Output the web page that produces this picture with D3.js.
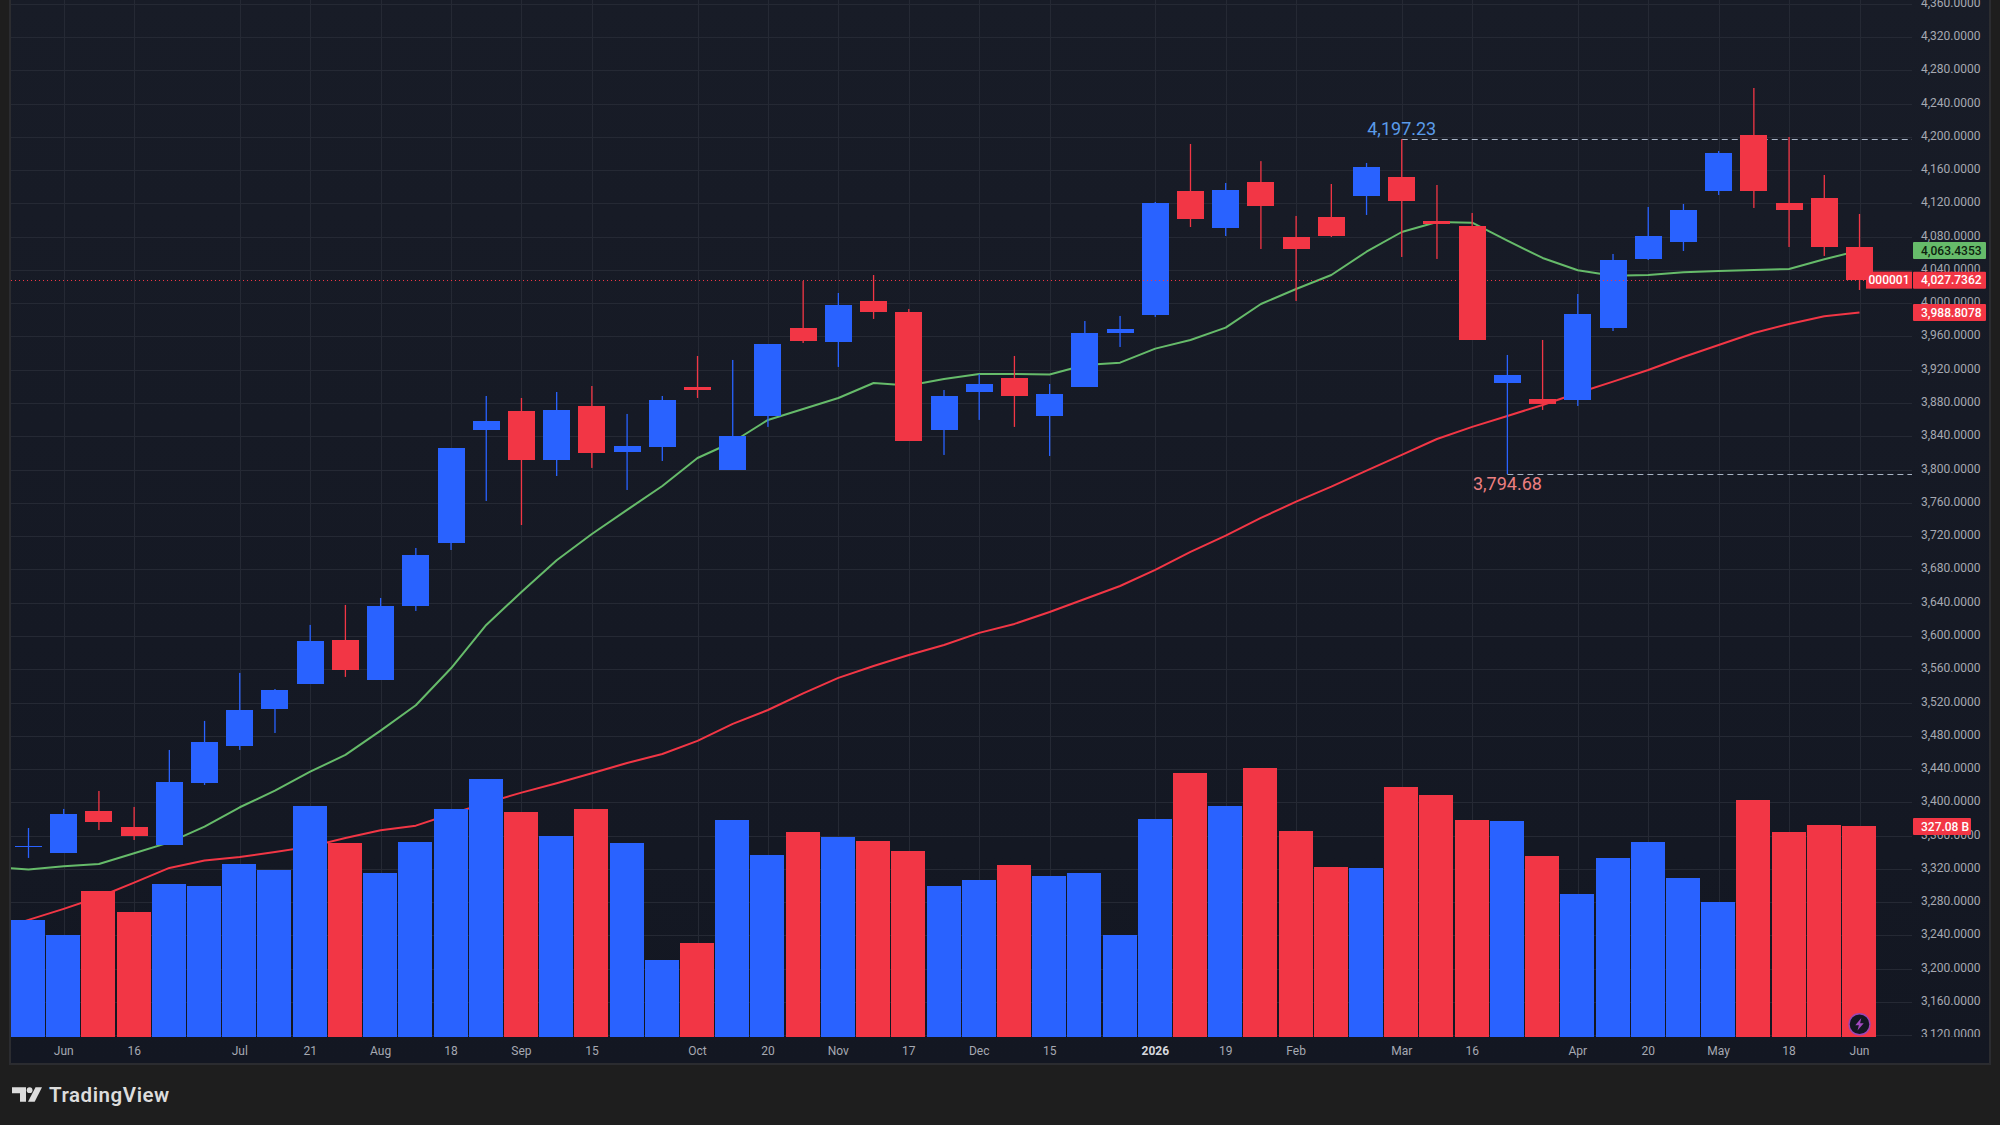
<!DOCTYPE html>
<html>
<head>
<meta charset="utf-8">
<title>Weekly candlestick chart with volume and moving averages</title>
<script src="https://cdn.jsdelivr.net/npm/d3@7/dist/d3.min.js"></script>
<style>
  html, body { margin: 0; padding: 0; background: #1e1e1e; }
  svg { display: block; }
  text { font-family: Roboto, "Noto Sans", sans-serif; }
</style>
</head>
<body>
<svg id="chart" width="2000" height="1125"></svg>
<script>
// Weekly OHLC
const opens = [3346.4,3339.2,3389.7,3370.4,3348.8,3423.3,3467.8,3512.3,3542.3,3595.2,3547.1,3636.1,3711.8,3847.6,3870.5,3811.6,3876.5,3821.2,3827.2,3899.3,3799.6,3864.5,3970.2,3953.4,4002.7,3989.5,3847.6,3893.3,3910.2,3864.5,3899.3,3964.2,3985.9,4134.9,4090.4,4145.7,4079.6,4103.6,4128.9,4151.7,4098.8,4092.8,3904.1,3884.9,3883.7,3970.2,4053.2,4073.6,4134.9,4202.2,4120.5,4126.5,4067.6];
const highs = [3369.2,3392.1,3413.7,3394.5,3463.0,3497.9,3555.6,3536.3,3613.3,3637.3,3645.7,3705.8,3826.0,3888.5,3886.1,3893.3,3900.5,3866.9,3888.5,3936.6,3931.8,3951.0,4026.7,4012.3,4033.9,3993.1,3895.7,3915.0,3936.6,3902.9,3978.6,3984.7,4121.7,4191.4,4144.5,4170.8,4104.9,4143.3,4168.6,4197.23,4142.1,4108.5,3937.8,3955.8,4011.1,4059.2,4115.7,4119.3,4183.0,4258.7,4199.8,4154.1,4107.3];
const lows = [3333.2,3339.2,3366.8,3354.8,3348.8,3420.9,3463.0,3483.4,3542.3,3550.8,3547.1,3630.1,3703.4,3762.3,3733.4,3792.3,3802.0,3775.5,3810.4,3886.1,3799.6,3851.3,3952.2,3923.4,3981.1,3834.4,3817.6,3859.7,3851.3,3816.4,3899.3,3947.4,3983.5,4091.6,4080.8,4065.2,4002.7,4079.6,4106.1,4055.6,4053.2,3955.8,3794.68,3871.7,3876.5,3966.6,4052.0,4062.8,4130.1,4114.5,4067.6,4056.8,4015.9];
const closes = [3347.6,3386.1,3376.5,3359.6,3424.5,3472.6,3511.1,3535.1,3594.1,3559.2,3636.1,3697.4,3826.0,3858.5,3811.6,3871.7,3820.0,3828.4,3883.7,3895.7,3840.4,3951.0,3954.6,3997.9,3989.5,3834.4,3888.5,3902.9,3888.5,3890.9,3964.2,3969.0,4120.5,4101.2,4136.1,4116.9,4065.2,4080.8,4163.8,4122.9,4095.2,3955.8,3913.8,3878.9,3987.1,4052.0,4080.8,4112.1,4180.6,4134.9,4112.1,4067.6,4027.7362];

// Weekly volume, in billions
const volumes = [181.4,158.1,226.3,193.8,237.2,234.1,268.2,258.9,358.1,300.7,254.2,302.3,353.4,399.9,348.8,311.6,353.4,300.7,119.4,145.7,336.4,282.1,317.8,310.0,303.8,288.3,234.1,243.4,266.6,249.6,254.2,158.1,337.9,409.2,358.1,417.0,319.3,263.5,262.0,387.5,375.1,336.4,334.8,280.6,221.7,277.5,302.3,246.5,209.3,367.4,317.8,328.6,327.08];

// Moving averages; the first entry belongs to the week before the visible range
const fastAverage = [3322.0,3319.4,3323.2,3326.0,3338.9,3351.9,3370.9,3394.1,3414.1,3436.9,3457.0,3486.2,3516.7,3561.2,3613.3,3652.9,3691.0,3722.6,3751.5,3780.3,3813.9,3833.2,3859.7,3872.9,3886.1,3904.1,3901.1,3909.0,3915.0,3915.0,3914.4,3925.8,3928.5,3945.4,3955.8,3970.6,3999.1,4017.1,4033.9,4061.9,4085.6,4097.6,4096.8,4075.2,4054.4,4039.6,4033.1,4033.9,4037.2,4038.8,4040.0,4041.2,4052.8,4063.4353];
const slowAverage = [3244.9,3258.7,3272.0,3286.3,3303.5,3321.2,3330.2,3334.4,3340.4,3346.8,3357.2,3366.5,3372.0,3386.1,3399.3,3411.7,3423.0,3435.0,3447.4,3458.2,3473.9,3494.3,3511.0,3531.0,3549.6,3564.0,3577.2,3589.2,3603.7,3614.5,3628.9,3644.5,3660.1,3679.4,3701.0,3720.6,3741.9,3761.5,3779.5,3798.7,3817.6,3836.8,3851.3,3864.5,3877.7,3892.1,3905.7,3919.7,3935.4,3949.8,3964.2,3975.0,3984.3,3988.8078];

// Axis ticks
const priceTicks = [3120,3160,3200,3240,3280,3320,3360,3400,3440,3480,3520,3560,3600,3640,3680,3720,3760,3800,3840,3880,3920,3960,4000,4040,4080,4120,4160,4200,4240,4280,4320,4360];
const timeTickIndex = [1,3,6,8,10,12,14,16,19,21,23,25,27,29,32,34,36,39,41,44,46,48,50,52];
const timeTickLabels = ["Jun","16","Jul","21","Aug","18","Sep","15","Oct","20","Nov","17","Dec","15","2026","19","Feb","Mar","16","Apr","20","May","18","Jun"];

// Annotated extremes: week index and price
const highMark = [39, 4197.23];
const lowMark = [42, 3794.68];

const upColor = "#2962ff", downColor = "#f23645", fastColor = "#66bb6a";
const gridColor = "#252934", axisText = "#a6a9b2", frameColor = "#2b2c30";

const pane = { left: 11, right: 1912, top: 0, bottom: 1037, axisRight: 1989, footBottom: 1064 };

const x = d3.scaleLinear().domain([0, 52]).range([28.5, 1859.5]);
const y = d3.scaleLinear().domain([3120, 4320]).range([1035.3, 37]);
const v = d3.scaleLinear().domain([0, 327.08]).range([pane.bottom, 826]);

const svg = d3.select("#chart");
const defs = svg.append("defs");

const bg = defs.append("linearGradient").attr("id", "paneFill")
  .attr("x1", 0).attr("y1", 0).attr("x2", 0).attr("y2", 1);
bg.append("stop").attr("offset", "0").attr("stop-color", "#181c27");
bg.append("stop").attr("offset", "1").attr("stop-color", "#131722");

defs.append("clipPath").attr("id", "plotClip").append("rect")
  .attr("x", pane.left).attr("y", pane.top)
  .attr("width", pane.right - pane.left).attr("height", pane.bottom - pane.top);
defs.append("clipPath").attr("id", "priceClip").append("rect")
  .attr("x", pane.right).attr("y", pane.top)
  .attr("width", pane.axisRight - pane.right).attr("height", pane.bottom - pane.top);

// Frame and panel background
svg.append("rect")
  .attr("x", pane.left - 1).attr("y", -2)
  .attr("width", pane.axisRight - pane.left + 2).attr("height", pane.footBottom + 2)
  .attr("fill", "url(#paneFill)").attr("stroke", frameColor).attr("stroke-width", 2);

const plot = svg.append("g").attr("clip-path", "url(#plotClip)");

// Grid, built from the same axes as the labels
plot.append("g")
  .attr("transform", `translate(${pane.right},0)`)
  .call(d3.axisRight(y).tickValues(priceTicks).tickSize(pane.left - pane.right).tickFormat(""))
  .call(g => g.select(".domain").remove())
  .call(g => g.selectAll("line").attr("stroke", gridColor).attr("shape-rendering", "crispEdges"));
plot.append("g")
  .attr("transform", `translate(0,${pane.bottom})`)
  .call(d3.axisTop(x).tickValues(timeTickIndex).tickSize(pane.bottom - pane.top).tickFormat(""))
  .call(g => g.select(".domain").remove())
  .call(g => g.selectAll("line").attr("stroke", gridColor).attr("shape-rendering", "crispEdges"));

// Dashed guides running from the high and low weeks to the price axis
[highMark, lowMark].forEach(([week, price]) => {
  plot.append("line")
    .attr("x1", x(week)).attr("x2", pane.right)
    .attr("y1", Math.round(y(price)) + 0.5).attr("y2", Math.round(y(price)) + 0.5)
    .attr("stroke", "#a7b3c4").attr("stroke-width", 1).attr("stroke-dasharray", "6 4");
});

// Moving averages
const averageLine = d3.line().x((d, i) => x(i - 1)).y(d => y(d));
plot.append("path").datum(slowAverage).attr("d", averageLine)
  .attr("fill", "none").attr("stroke", downColor).attr("stroke-width", 2).attr("stroke-linejoin", "round");
plot.append("path").datum(fastAverage).attr("d", averageLine)
  .attr("fill", "none").attr("stroke", fastColor).attr("stroke-width", 2).attr("stroke-linejoin", "round");

// Volume columns
const isUp = i => closes[i] >= opens[i];
plot.append("g").selectAll("rect").data(volumes).join("rect")
  .attr("x", (d, i) => x(i) - 17.5)
  .attr("width", 34)
  .attr("y", d => v(d))
  .attr("height", d => pane.bottom - v(d))
  .attr("fill", (d, i) => isUp(i) ? upColor : downColor)
  .attr("shape-rendering", "crispEdges");

// Candles
const candle = plot.append("g").selectAll("g").data(d3.range(opens.length)).join("g")
  .attr("fill", i => isUp(i) ? upColor : downColor);
candle.append("rect")
  .attr("x", i => x(i) - 0.65).attr("width", 1.3)
  .attr("y", i => y(highs[i]))
  .attr("height", i => y(lows[i]) - y(highs[i]));
candle.append("rect")
  .attr("x", i => x(i) - 13.5).attr("width", 27)
  .attr("y", i => y(Math.max(opens[i], closes[i])))
  .attr("height", i => Math.max(1, Math.abs(y(opens[i]) - y(closes[i]))))
  .attr("shape-rendering", "crispEdges");

// Last-price dotted line
const lastClose = closes[closes.length - 1];
plot.append("line")
  .attr("x1", pane.left).attr("x2", pane.right)
  .attr("y1", Math.round(y(lastClose)) + 0.5).attr("y2", Math.round(y(lastClose)) + 0.5)
  .attr("stroke", downColor).attr("stroke-width", 1).attr("stroke-dasharray", "1 3");

// Extreme labels
plot.append("text").attr("x", x(highMark[0])).attr("y", 134.5)
  .attr("text-anchor", "middle").attr("font-size", 18).attr("fill", "#5a9bea")
  .text(d3.format(",.2f")(highMark[1]));
plot.append("text").attr("x", x(lowMark[0])).attr("y", 489.5)
  .attr("text-anchor", "middle").attr("font-size", 18).attr("fill", "#ec7f80")
  .text(d3.format(",.2f")(lowMark[1]));

// Data-provider badge on the last volume column
const badge = svg.append("g").attr("transform", `translate(${x(52)},1024.3)`);
badge.append("circle").attr("r", 10.5).attr("fill", "#131722").attr("stroke", "#9a46b5").attr("stroke-width", 1.4);
badge.append("path").attr("d", "M1.8,-6.2 L-4.2,0.9 L-0.6,0.9 L-2,6.2 L4.2,-1.1 L0.6,-1.1 Z").attr("fill", "#a349c0");

// Price axis
svg.append("g").attr("clip-path", "url(#priceClip)").append("g")
  .attr("transform", `translate(${pane.right},0)`)
  .call(d3.axisRight(y).offset(0).tickValues(priceTicks).tickSize(0).tickPadding(9).tickFormat(d3.format(",.4f")))
  .call(g => g.select(".domain").remove())
  .call(g => g.selectAll("text").attr("dy", "0.25em")
    .attr("fill", axisText).attr("font-size", 12).attr("font-family", "Roboto, sans-serif"));

// Time axis
svg.append("g")
  .attr("transform", `translate(0,${pane.bottom})`)
  .call(d3.axisBottom(x).offset(0).tickValues(timeTickIndex).tickSize(0).tickPadding(9)
    .tickFormat((d, i) => timeTickLabels[i]))
  .call(g => g.select(".domain").remove())
  .call(g => g.selectAll("text")
    .attr("fill", d => d === 32 ? "#d6d8de" : axisText)
    .attr("font-weight", d => d === 32 ? 700 : 400)
    .attr("font-size", 12).attr("font-family", "Roboto, sans-serif"));

// Value tags on the price axis
const tag = (x0, x1, y0, fill, ink, label) => {
  svg.append("rect").attr("x", x0).attr("y", y0).attr("width", x1 - x0).attr("height", 17)
    .attr("rx", 1).attr("fill", fill);
  svg.append("text").attr("x", x0 + 8).attr("y", y0 + 12.8)
    .attr("font-size", 12).attr("font-weight", 500).attr("fill", ink).text(label);
};
tag(1913, 1986, y(fastAverage[53]) - 8.5, fastColor, "#0d1f0e", d3.format(",.4f")(fastAverage[53]));
tag(1913, 1986, y(lastClose) - 8.5, downColor, "#ffffff", d3.format(",.4f")(lastClose));
tag(1913, 1986, y(slowAverage[53]) - 8.5, downColor, "#ffffff", d3.format(",.4f")(slowAverage[53]));
tag(1913, 1971, 818, downColor, "#ffffff", volumes[52].toFixed(2) + " B");

// Bars-countdown tag beside the last price
svg.append("rect").attr("x", 1866).attr("y", y(lastClose) - 8.5).attr("width", 46).attr("height", 17)
  .attr("fill", downColor);
svg.append("text").attr("x", 1889).attr("y", y(lastClose) + 4.3).attr("text-anchor", "middle")
  .attr("font-size", 12).attr("font-weight", 500).attr("fill", "#ffffff").text("000001");

// Wordmark
const mark = svg.append("g").attr("fill", "#dcdcdc");
mark.append("path").attr("d", "M12,1087.3 H26 V1101.7 H20 V1093.3 H12 Z");
mark.append("circle").attr("cx", 29.6).attr("cy", 1090.2).attr("r", 2.9);
mark.append("path").attr("d", "M35.5,1087.3 H42 L34.7,1101.7 H28 Z");
mark.append("text").attr("x", 49).attr("y", 1101.7)
  .attr("font-family", "Inter, Roboto, sans-serif").attr("font-size", 20.5).attr("font-weight", 600)
  .attr("letter-spacing", 0.55).attr("fill", "#dcdcdc").text("TradingView");
</script>
</body>
</html>
